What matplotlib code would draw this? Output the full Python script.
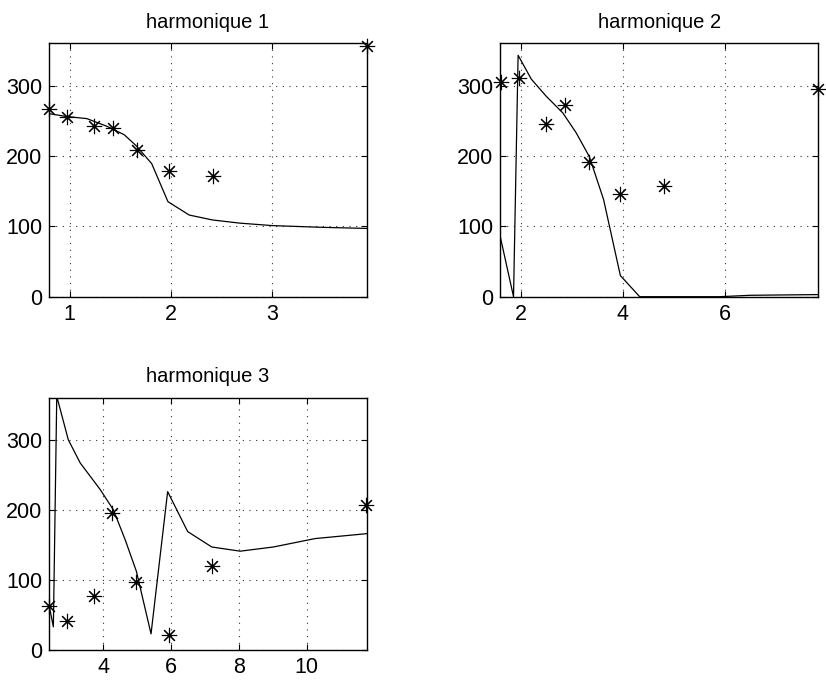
import matplotlib
matplotlib.use('Agg')
from matplotlib import pyplot as plt

plt.rcParams['font.family'] = ['Liberation Sans', 'DejaVu Sans']
plt.rcParams['font.size'] = 15

# harmonique 1 : mesures (etoiles) et modele (trait)
h1_mes_x = [0.8, 0.97, 1.24, 1.43, 1.66, 1.98, 2.41, 3.93]
h1_mes_y = [267, 255, 242, 239, 208, 179, 172, 356]
h1_mod_x = [0.8, 0.97, 1.17, 1.37, 1.54, 1.66, 1.81, 1.97, 2.18, 2.41, 2.68, 3.0, 3.5, 3.93]
h1_mod_y = [260, 256, 253, 242, 230, 214, 189, 135, 116, 109, 104.5, 101, 98.5, 97]

# harmonique 2
h2_mes_x = [1.61, 1.95, 2.49, 2.86, 3.34, 3.95, 4.8, 7.83]
h2_mes_y = [305, 310, 245, 272, 192, 146, 157, 295]
h2_mod_x = [1.59, 1.85, 1.94, 2.2, 2.49, 2.82, 3.08, 3.34, 3.62, 3.95, 4.33, 5.0, 5.9, 6.5, 7.84]
h2_mod_y = [85, 0, 343, 309, 285, 261, 233, 199, 138, 30, 0, 0, 0, 2, 3]

# harmonique 3
h3_mes_x = [2.41, 2.92, 3.74, 4.27, 4.98, 5.93, 7.2, 11.75]
h3_mes_y = [63, 42, 77, 195, 97, 22, 120, 207]
h3_mod_x = [2.41, 2.53, 2.63, 2.97, 3.32, 3.91, 4.3, 4.65, 4.98, 5.41, 5.9, 6.49, 7.2, 8.04, 9.02, 10.25, 11.77]
h3_mod_y = [62, 33, 362, 300, 267, 229, 200, 157, 112, 23, 226, 169, 147, 141, 147, 159, 166]

W, H = 826, 682
fig = plt.figure(figsize=(W / 100, H / 100), dpi=100)


def panel(rect, mes_x, mes_y, mod_x, mod_y, xlim, xticks, title):
    ax = fig.add_axes(rect)
    ax.plot(mod_x, mod_y, '-', color='k', lw=0.9, clip_on=True)
    ax.plot(mes_x, mes_y, linestyle='none', marker=(8, 2, 0), markersize=11,
            color='k', mew=0.8, clip_on=False)
    ax.set_xlim(*xlim)
    ax.set_ylim(0, 360)
    ax.set_xticks(xticks)
    ax.set_yticks([0, 100, 200, 300])
    ax.grid(True, linestyle=(0, (1, 5)), color='#333333', lw=0.8)
    ax.tick_params(direction='in', length=4, width=0.8, top=True, right=True,
                   labelsize=15.5, pad=5)
    for s in ax.spines.values():
        s.set_linewidth(1.0)
    ax.set_title(title, fontsize=14.5, pad=11)
    return ax


panel([49.3 / W, 1 - 296.7 / H, 317.4 / W, 253.4 / H],
      h1_mes_x, h1_mes_y, h1_mod_x, h1_mod_y, (0.8, 3.93), [1, 2, 3], 'harmonique 1')
panel([500.3 / W, 1 - 296.7 / H, 318 / W, 253.4 / H],
      h2_mes_x, h2_mes_y, h2_mod_x, h2_mod_y, (1.59, 7.84), [2, 4, 6], 'harmonique 2')
panel([49.3 / W, 1 - 650 / H, 317.4 / W, 252.3 / H],
      h3_mes_x, h3_mes_y, h3_mod_x, h3_mod_y, (2.41, 11.77), [4, 6, 8, 10], 'harmonique 3')

fig.savefig('out.png', dpi=100)
